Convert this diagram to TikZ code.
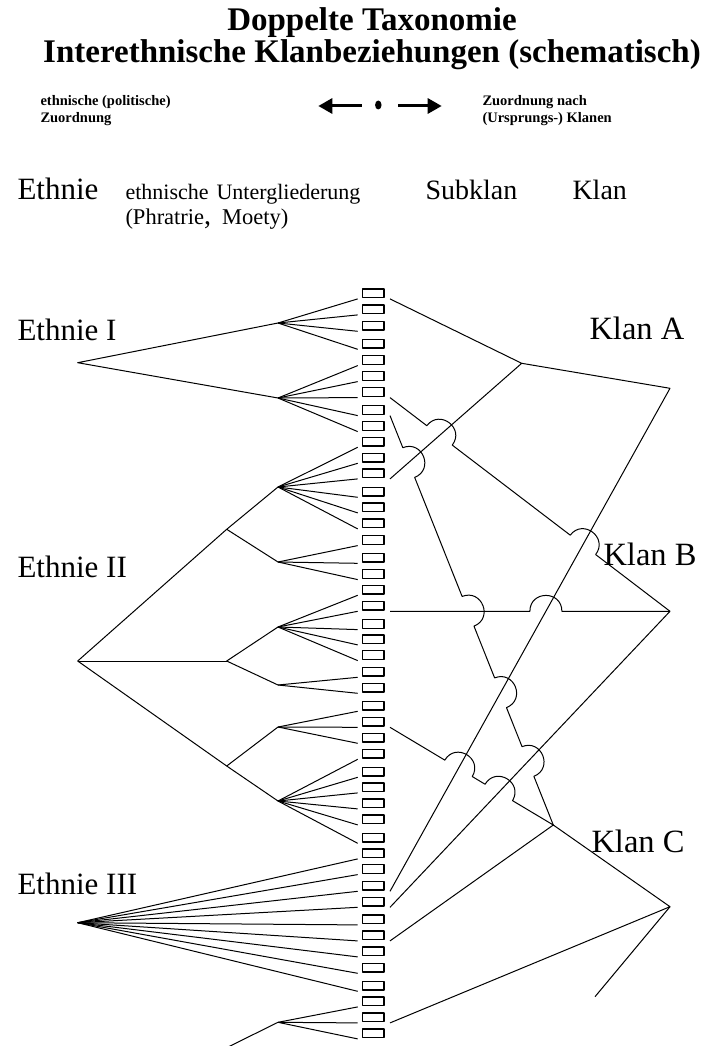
\documentclass[tikz,border=0pt]{standalone}
\usepackage{fontspec}
\setmainfont{Liberation Serif}
\usetikzlibrary{arrows.meta,calc,shapes.geometric}

\begin{document}
\begin{tikzpicture}[x=1pt, y=-1pt, line width=1pt, line join=round, >={Triangle[length=14pt,width=15pt]}]
\tikzstyle{box}=[draw, rectangle, line width=1.3pt, minimum width=21.7pt, minimum height=8.7pt, inner sep=0pt]
\tikzstyle{big}=[anchor=base west, inner sep=0pt, font=\fontsize{31}{31}\selectfont]
\tikzstyle{klan}=[anchor=base west, inner sep=0pt, font=\fontsize{32.5}{32.5}\selectfont]
\tikzstyle{head}=[anchor=base west, inner sep=0pt, font=\fontsize{28}{28}\selectfont]
\tikzstyle{small}=[anchor=base west, inner sep=0pt, font=\bfseries\fontsize{14.5}{16}\selectfont]
\tikzstyle{hop}=[bend left=90, looseness=1.7]
\path[use as bounding box, clip] (0,0) rectangle (702,1046);

% title and legend
\node[anchor=base, inner sep=0pt, font=\bfseries\fontsize{33}{33}\selectfont] (title1) at (372,31) {Doppelte Taxonomie};
\node[anchor=base, inner sep=0pt, font=\bfseries\fontsize{33}{33}\selectfont] (title2) at (372,63) {Interethnische Klanbeziehungen (schematisch)};
\node[small] (polit1) at (40,106) {ethnische (politische)};
\node[small] (polit2) at (40,122) {Zuordnung};
\node[small] (klanen1) at (482,106) {Zuordnung nach};
\node[small] (klanen2) at (482,122) {(Ursprungs-) Klanen};
\node[ellipse, fill, minimum width=6.5pt, minimum height=9pt, inner sep=0pt] (dot) at (378.3,105) {};
\draw[->, line width=3pt] ([xshift=-16.6pt,yshift=-1pt]dot.center) -- ([xshift=-60pt,yshift=-1pt]dot.center);
\draw[->, line width=3pt] ([xshift=20pt,yshift=-1pt]dot.center) -- ([xshift=63.4pt,yshift=-1pt]dot.center);

% column heads
\node[big] (hEthnie) at (17,199) {Ethnie};
\node[anchor=base west, inner sep=0pt, font=\fontsize{22}{22}\selectfont] (hUnter) at (125,199) {ethnische\hspace{8pt}Untergliederung};
\node[anchor=base west, inner sep=0pt, font=\fontsize{22.5}{22.5}\selectfont] (hPhr) at (125,224) {(Phratrie{\fontsize{28}{28}\selectfont,}\hspace{11pt}Moety)};
\node[head] (hSub) at (425,199) {Subklan};
\node[head] (hKlan) at (572,199) {Klan};

\node[big] (tE1) at (17,340) {Ethnie I};
\node[big] (tE2) at (17,577) {Ethnie II};
\node[big] (tE3) at (17,894) {Ethnie III};
\node[klan] (tKA) at (589,339) {Klan A};
\node[klan] (tKB) at (603,565) {Klan B};
\node[klan] (tKC) at (591,852) {Klan C};

% subklans
\foreach \i/\y in {1/293.3, 2/309.3, 3/325.7, 4/343.7, 5/360, 6/376, 7/392, 8/410,
  9/426, 10/441.7, 11/457.7, 12/473.3, 13/491.7, 14/507.3, 15/523.3, 16/540,
  17/557.7, 18/574, 19/589.7, 20/605.7, 21/624, 22/639.3, 23/655, 24/671.7,
  25/687.7, 26/705.7, 27/721.7, 28/737.7, 29/753.7, 30/771.7, 31/787.3, 32/803.3,
  33/819.3, 34/837.7, 35/853.3, 36/869, 37/885.7, 38/901.7, 39/919.3, 40/935.3,
  41/951.3, 42/967.7, 43/985.7, 44/1001.3, 45/1017.3, 46/1033.3}{
  \node[box] (b\i) at (373,\y) {};
  \coordinate (l\i) at ([xshift=-3.8pt,yshift=-0.6pt]b\i.south west);
  \coordinate (r\i) at ([xshift=5.5pt,yshift=-0.6pt]b\i.south east);
}

% ethnic tree
\coordinate (e1) at (77.7,362.7);
\coordinate (e2) at (77.7,661);
\coordinate (e3) at (77.7,922.7);
\coordinate (e4) at (222,1050);
\coordinate (s2a) at (226.7,529.3);
\coordinate (s2b) at (226.7,661);
\coordinate (s2c) at (226.7,766);
\coordinate (f1) at (278,323);
\coordinate (f2) at (278,398);
\coordinate (f3) at (278,487);
\coordinate (f4) at (278,562);
\coordinate (f5) at (278,627);
\coordinate (f6) at (278,685);
\coordinate (f7) at (278,727);
\coordinate (f8) at (278,801);
\coordinate (f9) at (278,1022.3);

\draw (f1) -- (e1) -- (f2);
\draw (s2a) -- (e2) -- (s2c);
\draw (e2) -- (s2b);
\draw (f3) -- (s2a) -- (f4);
\draw (f5) -- (s2b) -- (f6);
\draw (f7) -- (s2c) -- (f8);
\draw (e4) -- (f9);
\foreach \i in {1,...,4} \draw (f1) -- (l\i);
\foreach \i in {5,...,9} \draw (f2) -- (l\i);
\foreach \i in {10,...,15} \draw (f3) -- (l\i);
\foreach \i in {16,17,18} \draw (f4) -- (l\i);
\foreach \i in {19,...,23} \draw (f5) -- (l\i);
\foreach \i in {24,25} \draw (f6) -- (l\i);
\foreach \i in {26,27,28} \draw (f7) -- (l\i);
\foreach \i in {29,...,34} \draw (f8) -- (l\i);
\foreach \i in {35,...,43} \draw (e3) -- (l\i);
\foreach \i in {44,45,46} \draw (f9) -- (l\i);

% clan tree
\coordinate (subA) at (521.7,363.3);
\coordinate (klanA) at (670,388.3);
\coordinate (klanB) at (670,0 |- r20);
\coordinate (subC) at (553.3,825);
\coordinate (klanC) at (670,906.7);
\coordinate (cEnd) at (595,996.7);

\draw (r1) -- (subA) -- (r12);
\draw (subA) -- (klanA) -- (r37);
\draw (klanB) -- (r38);
\draw (r40) -- (subC) -- (klanC) -- (r45);
\draw (klanC) -- (cEnd);

% crossings
\coordinate (x1) at (intersection of r7--klanB and r12--subA);
\coordinate (x2) at (intersection of r7--klanB and klanA--r37);
\coordinate (x3) at (intersection of r20--klanB and klanA--r37);
\coordinate (x4) at (intersection of r8--subC and r12--subA);
\coordinate (x5) at (intersection of r8--subC and r20--klanB);
\coordinate (x6) at (intersection of r8--subC and klanA--r37);
\coordinate (x7) at (intersection of r8--subC and klanB--r38);
\coordinate (x8) at (intersection of r27--subC and klanA--r37);
\coordinate (x9) at (intersection of r27--subC and klanB--r38);

\draw (r7) -- ($(x1)!16pt!(r7)$) to[hop] ($(x1)!16pt!(klanB)$)
  -- ($(x2)!16pt!(r7)$) to[hop] ($(x2)!16pt!(klanB)$) -- (klanB);
\draw (r20) -- ($(x3)!16pt!(r20)$) to[hop] ($(x3)!16pt!(klanB)$) -- (klanB);
\draw (r8) -- ($(x4)!16pt!(r8)$) to[hop] ($(x4)!16pt!(subC)$)
  -- ($(x5)!16pt!(r8)$) to[hop] ($(x5)!16pt!(subC)$)
  -- ($(x6)!16pt!(r8)$) to[hop] ($(x6)!16pt!(subC)$)
  -- ($(x7)!16pt!(r8)$) to[hop] ($(x7)!16pt!(subC)$) -- (subC);
\draw (r27) -- ($(x8)!16pt!(r27)$) to[hop] ($(x8)!16pt!(subC)$)
  -- ($(x9)!16pt!(r27)$) to[hop] ($(x9)!16pt!(subC)$) -- (subC);
\end{tikzpicture}
\end{document}
